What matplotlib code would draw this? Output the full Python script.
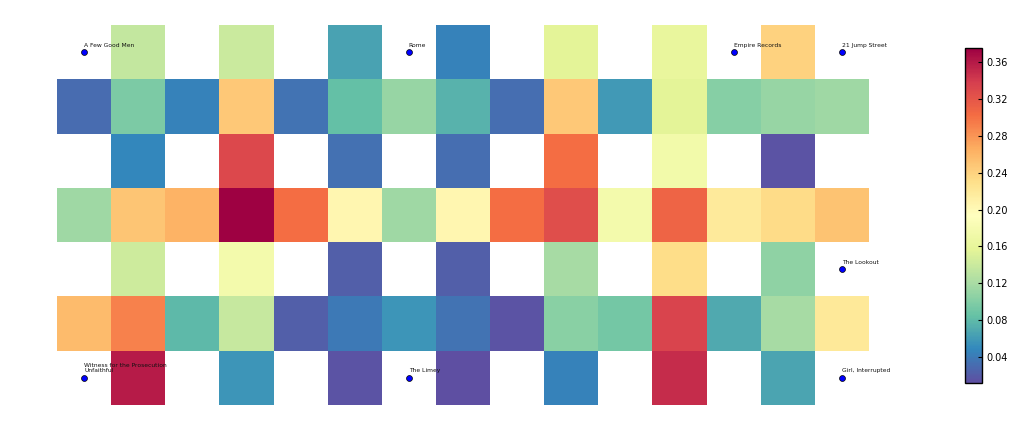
import numpy as np
import matplotlib
matplotlib.use("Agg")
import matplotlib.pyplot as plt

nan = np.nan

# cell values, rows top to bottom, 15 columns each (blank cells are nan)
row0 = [nan, 0.136, nan, 0.140, nan, 0.065, nan, 0.045, nan, 0.156, nan, 0.162, nan, 0.240, nan]
row1 = [0.031, 0.096, 0.045, 0.246, 0.035, 0.083, 0.110, 0.075, 0.033, 0.246, 0.060, 0.156, 0.102, 0.111, 0.115]
row2 = [nan, 0.048, nan, 0.330, nan, 0.034, nan, 0.033, nan, 0.302, nan, 0.175, nan, 0.016, nan]
row3 = [0.115, 0.249, 0.262, 0.375, 0.302, 0.204, 0.115, 0.204, 0.302, 0.326, 0.176, 0.309, 0.219, 0.232, 0.251]
row4 = [nan, 0.142, nan, 0.176, nan, 0.022, nan, 0.022, nan, 0.119, nan, 0.231, nan, 0.106, nan]
row5 = [0.257, 0.291, 0.080, 0.137, 0.022, 0.039, 0.056, 0.035, 0.016, 0.104, 0.092, 0.333, 0.069, 0.119, 0.220]
row6 = [nan, 0.359, nan, 0.056, nan, 0.016, nan, 0.012, nan, 0.045, nan, 0.349, nan, 0.067, nan]

# labelled points (column, row of the cell they sit in)
names = ["A Few Good Men", "Rome", "Empire Records", "21 Jump Street", "The Lookout",
         "Witness for the Prosecution\nUnfaithful", "The Limey", "Girl, Interrupted"]
pt_col = [0, 6, 12, 14, 14, 0, 6, 14]
pt_row = [0, 0, 0, 0, 4, 6, 6, 6]

cbar_ticks = [0.04, 0.08, 0.12, 0.16, 0.20, 0.24, 0.28, 0.32, 0.36]

grid = np.array([row0, row1, row2, row3, row4, row5, row6])
masked = np.ma.masked_invalid(grid)

fig = plt.figure(figsize=(10.14, 4.45), dpi=100)
W, H = 1014, 445
ax = fig.add_axes([57 / W, (H - 405) / H, 812 / W, 380 / H])

mesh = ax.pcolormesh(np.arange(grid.shape[1] + 1), np.arange(grid.shape[0] + 1), masked,
                     cmap="Spectral_r", vmin=np.nanmin(grid), vmax=np.nanmax(grid))
px = np.array(pt_col) + 0.5
py = np.array(pt_row) + 0.5
ax.scatter(px, py, s=18, c="blue", edgecolors="black", linewidths=0.5, zorder=3)
for name, x, y in zip(names, px, py):
    ax.annotate(name, (x, y), xytext=(0, 4.6), textcoords="offset pixels",
                fontsize=4.3, va="bottom", ha="left", linespacing=1.0, color="#111111")

ax.set_xlim(0, grid.shape[1])
ax.set_ylim(grid.shape[0], 0)
ax.axis("off")

cax = fig.add_axes([965 / W, (H - 383) / H, 17 / W, 335 / H])
cb = fig.colorbar(mesh, cax=cax, ticks=cbar_ticks)
cb.ax.set_yticklabels(["%.2f" % t for t in cbar_ticks])
cb.ax.tick_params(direction="in", length=3, width=0.8, labelsize=7, pad=3)
cb.outline.set_linewidth(1)

fig.savefig("out.png", dpi=100)
